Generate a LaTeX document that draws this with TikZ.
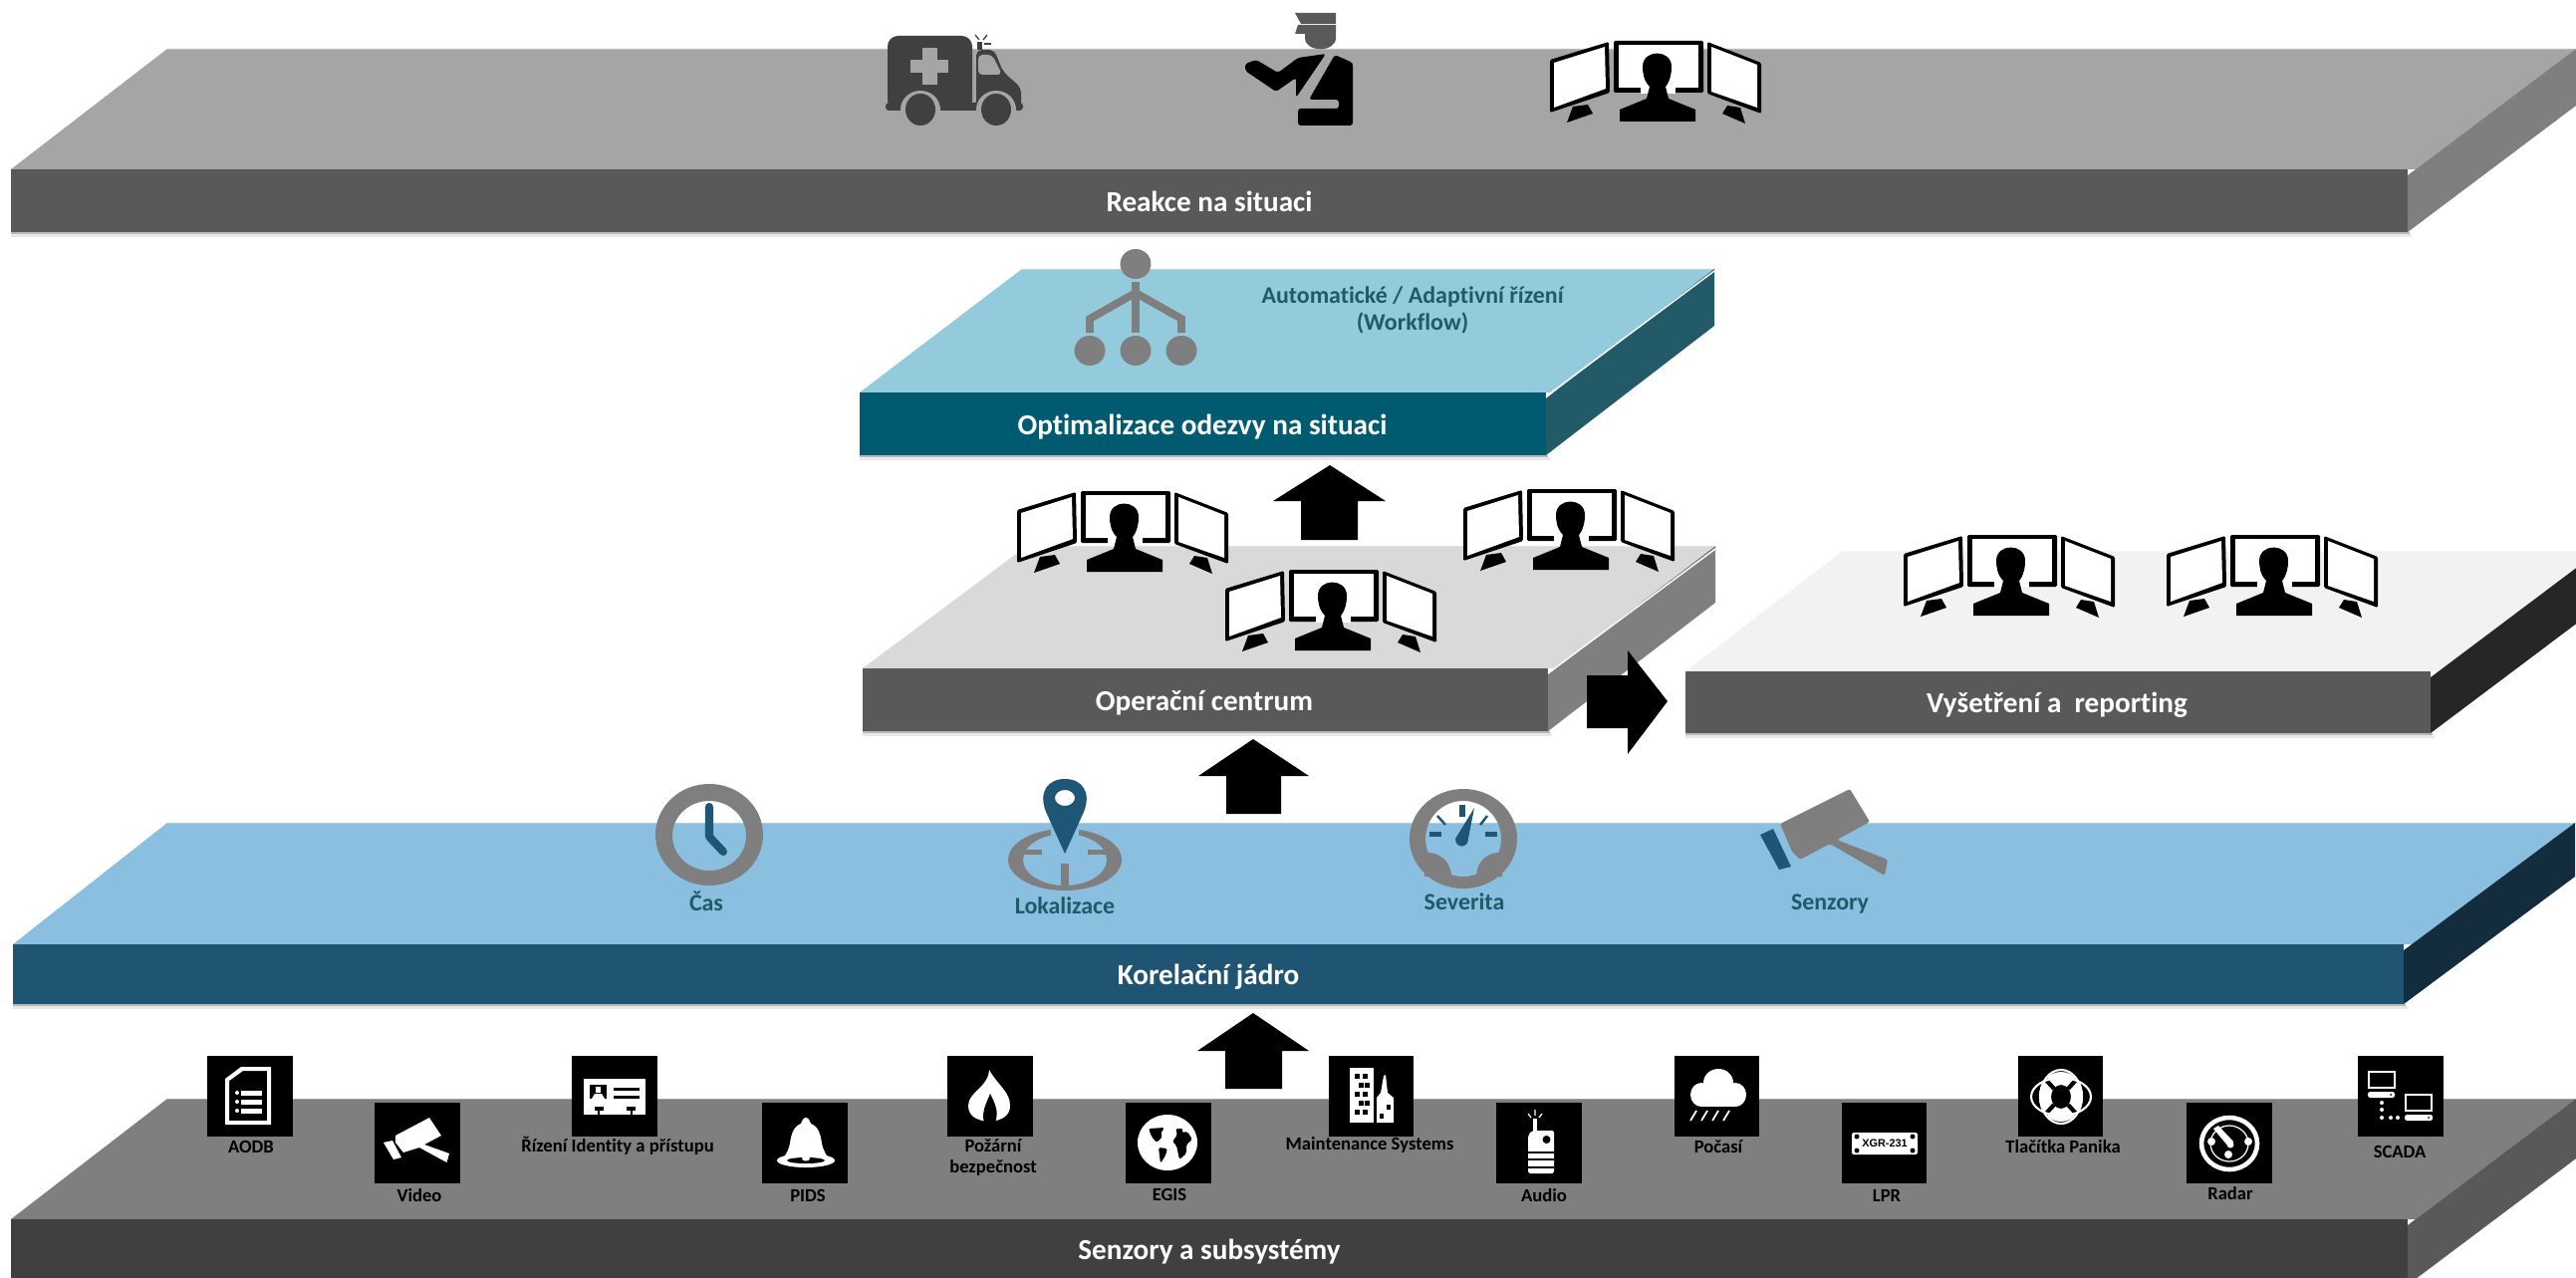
\documentclass[tikz,border=0pt]{standalone}
\usepackage{fontspec}
\setmainfont[Ligatures=NoCommon]{Carlito}
\newfontfamily\platefont{Liberation Sans}
\definecolor{atop}{HTML}{A5A5A5}\definecolor{afront}{HTML}{595959}\definecolor{aside}{HTML}{7F7F7F}
\definecolor{btop}{HTML}{93CBDC}\definecolor{bfront}{HTML}{005B71}\definecolor{bside}{HTML}{225A68}
\definecolor{ctop}{HTML}{D9D9D9}\definecolor{cfront}{HTML}{595959}\definecolor{cside}{HTML}{7F7F7F}
\definecolor{dtop}{HTML}{F2F2F2}\definecolor{dfront}{HTML}{595959}\definecolor{dside}{HTML}{262626}
\definecolor{etop}{HTML}{8ABFE0}\definecolor{efront}{HTML}{1F5472}\definecolor{eside}{HTML}{132C3E}
\definecolor{ftop}{HTML}{7F7F7F}\definecolor{ffront}{HTML}{404040}\definecolor{fside}{HTML}{595959}
\definecolor{iconblue}{HTML}{1F5676}
\definecolor{icongrey}{HTML}{7F7F7F}
\definecolor{labelteal}{HTML}{215968}
\tikzset{
  slablabel/.style={font=\bfseries\fontsize{8.3}{10}\selectfont,text=white,inner sep=0pt,anchor=center},
  midlabel/.style={font=\bfseries\fontsize{6.8}{8}\selectfont,text=labelteal,inner sep=0pt,anchor=center},
  srclabel/.style={font=\bfseries\fontsize{5.3}{5.7}\selectfont,text=black,inner sep=0pt,anchor=center,align=center},
  tile/.style={fill=black},
  blockarrow/.style={fill=black}
}
% x0 x1 ytop yfront ybottom xtopleft xtopright colourprefix
\newcommand\slab[8]{%
  \fill[black!28] (#1,#5) rectangle (#2+2,#5+2);
  \fill[black!9] (#1,#5+2) rectangle (#2+4,#5+5);
  \fill[#8top] (#1,#4) -- (#6,#3) -- (#7,#3) -- (#2+8,#4) -- cycle;
  \draw[#8top!75!white,line width=.25pt] (#1,#4) -- (#2,#4) (#6,#3) -- (#7,#3);
  \fill[#8side] (#2,#4+6) -- (#7,#3) -- (#7,#3+#5-#4-6) -- (#2,#5) -- cycle;
  \fill[#8front] (#1,#4) rectangle (#2,#5);
}
\newcommand\operator[2]{%
  \begin{scope}[shift={(#1,#2)}]
    \fill[black,rounded corners=.4pt] (0,19) -- (59,1) -- (60,52) -- (0,72) -- cycle;
    \fill[white] (4,22) -- (55,6) -- (56,48) -- (4,67) -- cycle;
    \fill[black,rounded corners=.4pt] (64,0) rectangle (154,52);
    \fill[white] (69,4) rectangle (149,47);
    \fill[white] (91,46) rectangle (126,53);
    \fill[black,rounded corners=.4pt] (158,1) -- (212,22) -- (212,73) -- (158,53) -- cycle;
    \fill[white] (162,6) -- (208,24) -- (208,67) -- (162,51) -- cycle;
    \fill[black] (23,66) -- (38,64) -- (43,73) -- (17,82) -- cycle;
    \fill[black] (178,65) -- (191,67) -- (196,83) -- (173,73) -- cycle;
    \fill[black] (70,81) -- (70,69) -- (97,58) -- (100,46)
      .. controls (94,40) and (93,32) .. (93,26)
      .. controls (93,8) and (122,8) .. (122,26)
      .. controls (122,32) and (121,40) .. (116,46)
      -- (119,58) -- (146,69) -- (146,81) -- cycle;
  \end{scope}%
}
\begin{document}
\begin{tikzpicture}[x=0.01cm,y=-0.01cm]
\useasboundingbox (0,0) rectangle (2586,1282);
\clip (0,0) rectangle (2586,1282);
\fill[white] (0,0) rectangle (2586,1282);

% ---------- slabs
\slab{11}{2417}{49}{170}{233}{168}{2586}{a}
\slab{863}{1552}{270}{394}{457}{1026}{1721}{b}
\draw[white,line width=.4pt] (1552,398) -- (1721,272);
\slab{866}{1554}{548}{671}{734}{1031}{1722}{c}
\draw[white,line width=.4pt] (1554,676) -- (1722,551);
\slab{1692}{2440}{553}{674}{736}{1850}{2609}{d}
\slab{13}{2413}{826}{948}{1008}{168}{2585}{e}
\slab{11}{2417}{1103}{1224}{1290}{168}{2586}{f}

% ---------- arrows
\fill[blockarrow] (1335,467) -- (1391,503) -- (1363,503) -- (1363,542) -- (1306,542) -- (1306,503) -- (1278,503) -- cycle;
\fill[blockarrow] (1258,742) -- (1314,779) -- (1286,779) -- (1286,817) -- (1231,817) -- (1231,779) -- (1203,779) -- cycle;
\fill[blockarrow] (1258,1017) -- (1314,1055) -- (1287,1055) -- (1287,1093) -- (1230,1093) -- (1230,1055) -- (1202,1055) -- cycle;
\fill[blockarrow] (1674,704) -- (1634,757) -- (1634,731) -- (1593,731) -- (1593,678) -- (1634,678) -- (1634,653) -- cycle;

% ---------- operators
\operator{1556}{41}
\operator{1021}{493}
\operator{1469}{491}
\operator{1230}{572}
\operator{1911}{537}
\operator{2175}{537}

% ---------- ambulance
\fill[ffront,rounded corners=3pt] (891,111) -- (891,36) -- (976,36) -- (976,111) -- cycle;
\fill[atop] (926,48) rectangle (941,85);
\fill[atop] (914,60) rectangle (952,73);
\fill[ffront,rounded corners=1.6pt] (980,111) -- (980,50) -- (998,50) -- (1007,72) -- (1025,88) -- (1025,111) -- cycle;
\fill[ffront,rounded corners=1pt] (889,103) rectangle (1027,111);
\fill[atop,rounded corners=1.2pt] (982,75) -- (982,55) -- (996,55) -- (1006,75) -- cycle;
\fill[atop] (924,110) ellipse [x radius=20,y radius=19];
\fill[atop] (1000,110) ellipse [x radius=20,y radius=19];
\fill[ffront] (924,110) ellipse [x radius=15,y radius=16];
\fill[ffront] (1000,110) ellipse [x radius=15,y radius=16];
\fill[ffront] (981,42) rectangle (986,50);
\fill[ffront] (988,43) rectangle (995,45);
\draw[ffront,line width=.35pt] (979,35) -- (983,40) (991,35) -- (987,40);

% ---------- police officer
\fill[afront] (1300,13) -- (1341,13) -- (1341,24) -- (1306,24) -- cycle;
\fill[afront] (1303,25) -- (1341,25) -- (1341,38)
  .. controls (1341,53) and (1310,53) .. (1310,38) -- (1310,34) -- (1300,34) -- cycle;
\fill[black,rounded corners=.8pt] (1250,64) -- (1261,60) -- (1283,73) -- (1303,58) -- (1331,54) -- (1301,98) -- (1301,78) -- (1281,92) -- (1250,71) -- cycle;
\fill[black,rounded corners=.8pt] (1340,55) -- (1358,63) -- (1358,126) -- (1303,126) -- (1303,109) -- (1344,109) -- (1344,100) -- (1314,100) -- cycle;

% ---------- workflow
\fill[icongrey] (1140,265) ellipse [x radius=15.5,y radius=15];
\fill[icongrey] (1094,352) ellipse [x radius=15.5,y radius=15];
\fill[icongrey] (1140,352) ellipse [x radius=15.5,y radius=15];
\fill[icongrey] (1186,352) ellipse [x radius=15.5,y radius=15];
\draw[icongrey,line width=2.2pt] (1140,283) -- (1140,334);
\draw[icongrey,line width=2.2pt] (1094,334) -- (1094,320) -- (1140,294) -- (1186,320) -- (1186,334);

% ---------- clock
\fill[icongrey,even odd rule] (712,838) ellipse [x radius=54,y radius=51] (712,839) ellipse [x radius=37,y radius=35];
\draw[iconblue,line width=2.3pt,line cap=round,line join=round] (712,810) -- (712,840) -- (726,855);

% ---------- location
\fill[icongrey,even odd rule] (1069,863) ellipse [x radius=57,y radius=31] (1069,863) ellipse [x radius=42,y radius=26];
\fill[icongrey] (1027,853) rectangle (1046,858);
\fill[icongrey] (1092,853) rectangle (1111,858);
\fill[icongrey] (1065,867) rectangle (1073,890);
\fill[etop] (1055,830) rectangle (1083,842);
\fill[iconblue,even odd rule] (1069,857) -- (1050,815)
  .. controls (1042,795) and (1052,782) .. (1069,782)
  .. controls (1086,782) and (1096,795) .. (1088,815) -- cycle
  (1069,801) ellipse [x radius=10,y radius=8];

% ---------- gauge
\fill[icongrey,even odd rule] (1469,842) ellipse [x radius=54,y radius=50] (1469,842) ellipse [x radius=38,y radius=38];
\fill[icongrey] (1431,856) .. controls (1445,855) and (1457,865) .. (1457,880) -- (1430,880) -- cycle;
\fill[icongrey] (1507,856) .. controls (1493,855) and (1482,865) .. (1482,880) -- (1508,880) -- cycle;
\fill[iconblue] (1465,808) rectangle (1471,820);
\fill[iconblue] (1435,835) rectangle (1447,840);
\fill[iconblue] (1491,835) rectangle (1503,840);
\draw[iconblue,line width=.7pt] (1443,819) -- (1451,828) (1493,819) -- (1486,828);
\fill[iconblue] (1480,811) -- (1474,842) .. controls (1474,852) and (1461,852) .. (1461,842) -- cycle;

% ---------- camera
\fill[icongrey,rounded corners=.5pt] (1857,792) -- (1877,825) -- (1844,843) -- (1895,863) -- (1892,879) -- (1837,847) -- (1807,863) -- (1799,855) -- (1787,827) -- cycle;
\fill[iconblue] (1780,832) -- (1798,870) -- (1786,873) -- (1767,838) -- cycle;

% ---------- tiles
\fill[tile] (208,1060) rectangle (294,1141);
\fill[tile] (376,1107) rectangle (462,1188);
\fill[tile] (574,1060) rectangle (660,1141);
\fill[tile] (765,1107) rectangle (851,1188);
\fill[tile] (951,1060) rectangle (1037,1141);
\fill[tile] (1130,1107) rectangle (1216,1188);
\fill[tile] (1334,1060) rectangle (1419,1141);
\fill[tile] (1502,1107) rectangle (1588,1188);
\fill[tile] (1681,1060) rectangle (1766,1141);
\fill[tile] (1849,1107) rectangle (1934,1188);
\fill[tile] (2026,1060) rectangle (2111,1141);
\fill[tile] (2195,1107) rectangle (2281,1188);
\fill[tile] (2367,1060) rectangle (2453,1141);

% AODB document
\fill[white,even odd rule] (226,1083) -- (242,1071) -- (272,1071) -- (272,1129) -- (226,1129) -- cycle
  (230,1085) -- (244,1075) -- (268,1075) -- (268,1125) -- (230,1125) -- cycle;
\fill[white] (242,1095) rectangle (263,1100);
\fill[white] (242,1104) rectangle (263,1109);
\fill[white] (242,1113) rectangle (263,1118);
\fill[white] (238,1097) circle [radius=2];
\fill[white] (238,1106) circle [radius=2];
\fill[white] (238,1115) circle [radius=2];

% Video camera
\fill[white] (431,1122) -- (443,1140) -- (426,1149) -- (451,1158) -- (448.5,1167) -- (421,1152) -- (405,1157) -- (397,1147) -- (397,1140) -- cycle;
\fill[white] (385,1147) -- (394,1145) -- (403,1162) -- (395,1164) -- cycle;

% ID card
\fill[white] (586,1083) rectangle (648,1119);
\fill[black] (592,1089) rectangle (609,1103);
\fill[white] (598,1091) rectangle (603,1097);
\fill[white] (594,1103) -- (597,1098) -- (604,1098) -- (607,1103) -- cycle;
\fill[black] (616,1092) rectangle (642,1095);
\fill[black] (616,1100) rectangle (642,1103);
\fill[black] (597,1111) rectangle (606,1115);
\fill[black] (600,1115) rectangle (602,1119);
\fill[black] (629,1111) rectangle (638,1115);
\fill[black] (633,1115) rectangle (635,1119);

% Bell
\fill[white] (809,1122) .. controls (812,1122) and (813,1126) .. (814,1128)
  .. controls (822,1131) and (824,1140) .. (825,1148)
  .. controls (826,1153) and (828,1157) .. (831,1162)
  -- (787,1162)
  .. controls (790,1157) and (792,1153) .. (793,1148)
  .. controls (794,1140) and (796,1131) .. (804,1128)
  .. controls (805,1126) and (806,1122) .. (809,1122) -- cycle;
\fill[white] (809,1165) ellipse [x radius=29,y radius=7];
\fill[black] (809,1165) ellipse [x radius=19,y radius=3];
\fill[white] (809,1163) ellipse [x radius=4,y radius=2.5];

% Flame
\fill[white] (993,1074) .. controls (1002,1090) and (1014,1096) .. (1014,1110)
  .. controls (1014,1120) and (1006,1125) .. (993,1126)
  .. controls (980,1125) and (972,1120) .. (972,1110)
  .. controls (972,1096) and (992,1092) .. (993,1074) -- cycle;
\fill[black] (994,1098) .. controls (999,1108) and (1003,1116) .. (999,1127)
  -- (988,1127) .. controls (985,1116) and (990,1108) .. (994,1098) -- cycle;

% Globe
\fill[white] (1172,1147) ellipse [x radius=30,y radius=28];
\fill[black,rounded corners=.6pt] (1153,1133) -- (1169,1132) -- (1165,1138) -- (1167,1141) -- (1161,1147) -- (1156,1141) -- cycle;
\fill[black,rounded corners=.5pt] (1163,1152) -- (1172,1153) -- (1170,1160) -- (1165,1168) -- cycle;
\fill[black,rounded corners=.5pt] (1180,1133) -- (1188,1133) -- (1186,1137) -- (1192,1136) -- (1197,1144) -- (1191,1149) -- (1191,1158) -- (1184,1164) -- (1181,1150) -- (1177,1146) -- (1182,1139) -- cycle;

% Buildings
\fill[white] (1355,1072) rectangle (1379,1127);
\foreach \wy/\wa/\wb in {1078/1360/1368,1087/1364/1370,1096/1360/1368,1105/1364/1370,1114/1360/1368}{
  \fill[black] (\wa,\wy) rectangle +(5,5);
  \fill[black] (\wb,\wy) rectangle +(5,5);
}
\fill[white] (1382,1127) -- (1382,1102) -- (1386,1097) -- (1389,1080) -- (1391,1079) -- (1393,1097) -- (1399,1102) -- (1399,1127) -- cycle;
\fill[black] (1392,1109) rectangle (1396,1114);
\fill[black] (1385,1118) rectangle (1389,1123);

% Audio radio
\fill[white,rounded corners=.5pt] (1534,1140) -- (1538,1135) -- (1560,1135) -- (1560,1178) -- (1534,1178) -- cycle;
\fill[white] (1539,1123) rectangle (1543,1136);
\fill[black] (1534,1156) rectangle (1560,1158);
\fill[black] (1534,1163) rectangle (1560,1165);
\fill[black] (1534,1171) rectangle (1560,1173);
\fill[black] (1552.5,1144) circle [radius=4];
\draw[white,line width=.35pt] (1534,1118) -- (1537,1122) (1541,1114) -- (1541,1120) (1548,1118) -- (1545,1122);

% Cloud
\fill[white] (1725,1087) ellipse [x radius=15,y radius=14];
\fill[white] (1708,1099) ellipse [x radius=11,y radius=12];
\fill[white] (1742,1099) ellipse [x radius=11,y radius=12];
\fill[white] (1708,1096) rectangle (1742,1111);
\draw[white,line width=.5pt] (1697,1125) -- (1703,1115) (1708,1125) -- (1714,1115) (1719,1125) -- (1725,1115) (1730,1125) -- (1736,1115);

% LPR plate
\fill[white,rounded corners=.6pt] (1859,1137) rectangle (1925,1159);
\foreach \dx/\dy in {1864/1141,1864/1155,1920/1141,1920/1155}{\fill[black] (\dx,\dy) circle [radius=2.5];}
\node[font=\platefont\bfseries\fontsize{3.1}{3.5}\selectfont,text=black,inner sep=0pt] (platetext) at (1892,1148) {XGR-231};

% Lifebuoy
\fill[white,even odd rule] (2069,1101) ellipse [x radius=22,y radius=25] (2069,1101) ellipse [x radius=10,y radius=12];
\draw[black,line width=1.2pt] (2052,1082) -- (2062,1093) (2086,1082) -- (2076,1093) (2052,1120) -- (2062,1109) (2086,1120) -- (2076,1109);
\draw[white,line width=.6pt] (2069,1101) ellipse [x radius=30,y radius=19];
\draw[white,line width=.6pt] (2069,1101) ellipse [x radius=21,y radius=27];

% Radar
\draw[white,line width=1.3pt] (2238,1148) ellipse [x radius=28,y radius=26];
\draw[white,line width=.35pt] (2238,1148) ellipse [x radius=19,y radius=18];
\fill[white] (2222,1133) -- (2227,1130) -- (2242,1146) -- (2237,1151) -- cycle;
\fill[white] (2239,1149) circle [radius=3.5];
\fill[white] (2220,1146) circle [radius=4];
\fill[white] (2257,1146) circle [radius=4];
\fill[white] (2237,1159) circle [radius=4];

% SCADA
\draw[white,line width=.5pt] (2378,1076) rectangle (2404,1092);
\fill[white,rounded corners=.5pt] (2377,1096) rectangle (2404,1102);
\fill[black] (2400,1099) circle [radius=1];
\draw[white,line width=.5pt] (2415,1099) rectangle (2441,1115);
\fill[white,rounded corners=.5pt] (2414,1119) rectangle (2442,1125);
\fill[black] (2438,1122) circle [radius=1];
\foreach \dx/\dy in {2391/1107,2391/1114,2391/1122,2400/1122,2407/1122}{\fill[white] (\dx,\dy) circle [radius=2];}

% ---------- texts
\node[slablabel] (reakce) at (1214,202) {Reakce na situaci};
\node[slablabel] (optim) at (1207,429) {Optimalizace odezvy na situaci};
\node[slablabel] (operacni) at (1209,706) {Operační centrum};
\node[slablabel] (vysetreni) at (2065,708) {Vyšetření a\ \ reporting};
\node[slablabel] (korelacni) at (1213,981) {Korelační jádro};
\node[slablabel] (senzory) at (1214,1257) {Senzory a subsystémy};
\node[midlabel] (auto1) at (1418,298) {Automatické / Adaptivní řízení};
\node[midlabel] (auto2) at (1418,324) {(Workflow)};
\node[midlabel] (cas) at (709,905) {Čas};
\node[midlabel] (lokalizace) at (1069,909) {Lokalizace};
\node[midlabel] (severita) at (1470,905) {Severita};
\node[midlabel] (senzoryb) at (1837,908) {Senzory};
\node[srclabel] (aodb) at (252,1151) {AODB};
\node[srclabel] (video) at (421,1200) {Video};
\node[srclabel] (rizeni) at (620,1150) {Řízení Identity a přístupu};
\node[srclabel] (pids) at (811,1200) {PIDS};
\node[srclabel] (pozarni) at (997,1162) {Požární\\bezpečnost};
\node[srclabel] (egis) at (1174,1199) {EGIS};
\node[srclabel] (maint) at (1375,1149) {Maintenance Systems};
\node[srclabel] (audio) at (1550,1200) {Audio};
\node[srclabel] (pocasi) at (1725,1151) {Počasí};
\node[srclabel] (lpr) at (1894,1200) {LPR};
\node[srclabel] (panika) at (2071,1151) {Tlačítka Panika};
\node[srclabel] (radar) at (2239,1198) {Radar};
\node[srclabel] (scada) at (2409,1156) {SCADA};
\end{tikzpicture}
\end{document}
